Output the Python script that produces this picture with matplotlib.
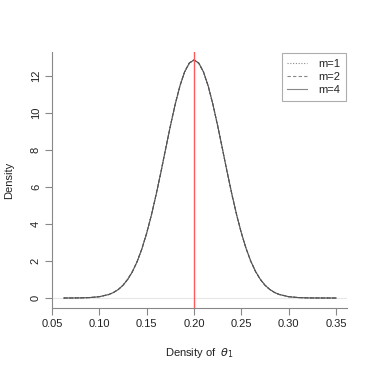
import matplotlib
matplotlib.use("Agg")
import matplotlib.pyplot as plt

plt.rcParams['font.family'] = ['Liberation Sans', 'DejaVu Sans']
plt.rcParams['mathtext.fontset'] = 'dejavusans'

# grid of theta_1 values and density estimates
theta = [0.0625, 0.07, 0.08, 0.09, 0.10, 0.11, 0.115, 0.12, 0.125, 0.13, 0.135,
         0.14, 0.145, 0.15, 0.155, 0.16, 0.165, 0.17, 0.175, 0.18, 0.185, 0.19,
         0.195, 0.20, 0.205, 0.21, 0.215, 0.22, 0.225, 0.23, 0.235, 0.24, 0.245,
         0.25, 0.255, 0.26, 0.265, 0.27, 0.275, 0.28, 0.285, 0.29, 0.30, 0.31,
         0.32, 0.33, 0.34, 0.35]
dens_m4 = [0.001, 0.002, 0.007, 0.024, 0.07, 0.19, 0.30, 0.46, 0.69, 1.01, 1.43,
           1.98, 2.67, 3.51, 4.49, 5.60, 6.80, 8.06, 9.30, 10.45, 11.45, 12.22,
           12.70, 12.87, 12.70, 12.22, 11.45, 10.45, 9.30, 8.06, 6.80, 5.60, 4.49,
           3.51, 2.67, 1.98, 1.43, 1.01, 0.69, 0.46, 0.30, 0.19, 0.07, 0.024,
           0.007, 0.002, 0.001, 0.000]
dens_m2 = [0.001, 0.002, 0.007, 0.024, 0.07, 0.19, 0.30, 0.46, 0.69, 1.02, 1.44,
           1.99, 2.68, 3.52, 4.50, 5.61, 6.81, 8.07, 9.31, 10.46, 11.46, 12.23,
           12.71, 12.88, 12.69, 12.21, 11.44, 10.44, 9.29, 8.05, 6.79, 5.59, 4.48,
           3.50, 2.66, 1.97, 1.42, 1.00, 0.68, 0.46, 0.30, 0.19, 0.07, 0.024,
           0.007, 0.002, 0.001, 0.000]
dens_m1 = [0.001, 0.002, 0.007, 0.024, 0.07, 0.19, 0.30, 0.46, 0.69, 1.01, 1.43,
           1.98, 2.67, 3.51, 4.49, 5.60, 6.80, 8.06, 9.30, 10.45, 11.45, 12.22,
           12.70, 12.87, 12.70, 12.22, 11.45, 10.45, 9.30, 8.06, 6.80, 5.60, 4.49,
           3.51, 2.67, 1.98, 1.43, 1.01, 0.69, 0.46, 0.30, 0.19, 0.07, 0.024,
           0.007, 0.002, 0.001, 0.000]
true_value = 0.20
xticks = [0.05, 0.10, 0.15, 0.20, 0.25, 0.30, 0.35]
yticks = [0, 2, 4, 6, 8, 10, 12]

fig = plt.figure(figsize=(3.74, 3.74), dpi=100)
ax = fig.add_axes([52/374, 66/374, 295/374, 256/374])

ax.axhline(0, color='#e6e6e6', lw=0.8, zorder=1)
ax.plot(theta, dens_m1, color='#555555', lw=0.8, ls=(0, (1, 1.5)), label='m=1', zorder=3)
ax.plot(theta, dens_m2, color='#555555', lw=0.8, ls=(0, (3, 2)), label='m=2', zorder=3)
ax.plot(theta, dens_m4, color='#555555', lw=0.8, ls='-', label='m=4', zorder=3)
ax.axvline(true_value, color='#ff5a5a', lw=1.0, zorder=4)

ax.set_xlim(0.0505, 0.3615)
ax.set_ylim(-0.54, 13.3)
ax.set_xticks(xticks)
ax.set_xticklabels([f'{v:.2f}' for v in xticks])
ax.set_yticks(yticks)
ax.set_yticklabels([str(v) for v in yticks], rotation=90, va='center')

for s in ['top', 'right']:
    ax.spines[s].set_visible(False)
for s in ['left', 'bottom']:
    ax.spines[s].set_color('#888888')
    ax.spines[s].set_linewidth(0.8)
ax.tick_params(axis='both', direction='out', length=5, width=0.8, color='#888888',
               labelsize=8, labelcolor='#222222', pad=3)

ax.set_xlabel(r'Density of  $\theta_1$', fontsize=8, color='#222222', labelpad=12)
ax.set_ylabel('Density', fontsize=8, color='#222222', labelpad=12)

leg = ax.legend(loc='upper right', bbox_to_anchor=(1.0, 1.0), fontsize=8,
                frameon=True, fancybox=False, handlelength=1.8, handletextpad=1.0,
                borderpad=0.5, labelspacing=0.3, borderaxespad=0.1)
leg.get_frame().set_edgecolor('#999999')
leg.get_frame().set_linewidth(0.8)
for line in leg.get_lines():
    line.set_color('#888888')
for t in leg.get_texts():
    t.set_color('#222222')

fig.savefig('out.png', dpi=100)
